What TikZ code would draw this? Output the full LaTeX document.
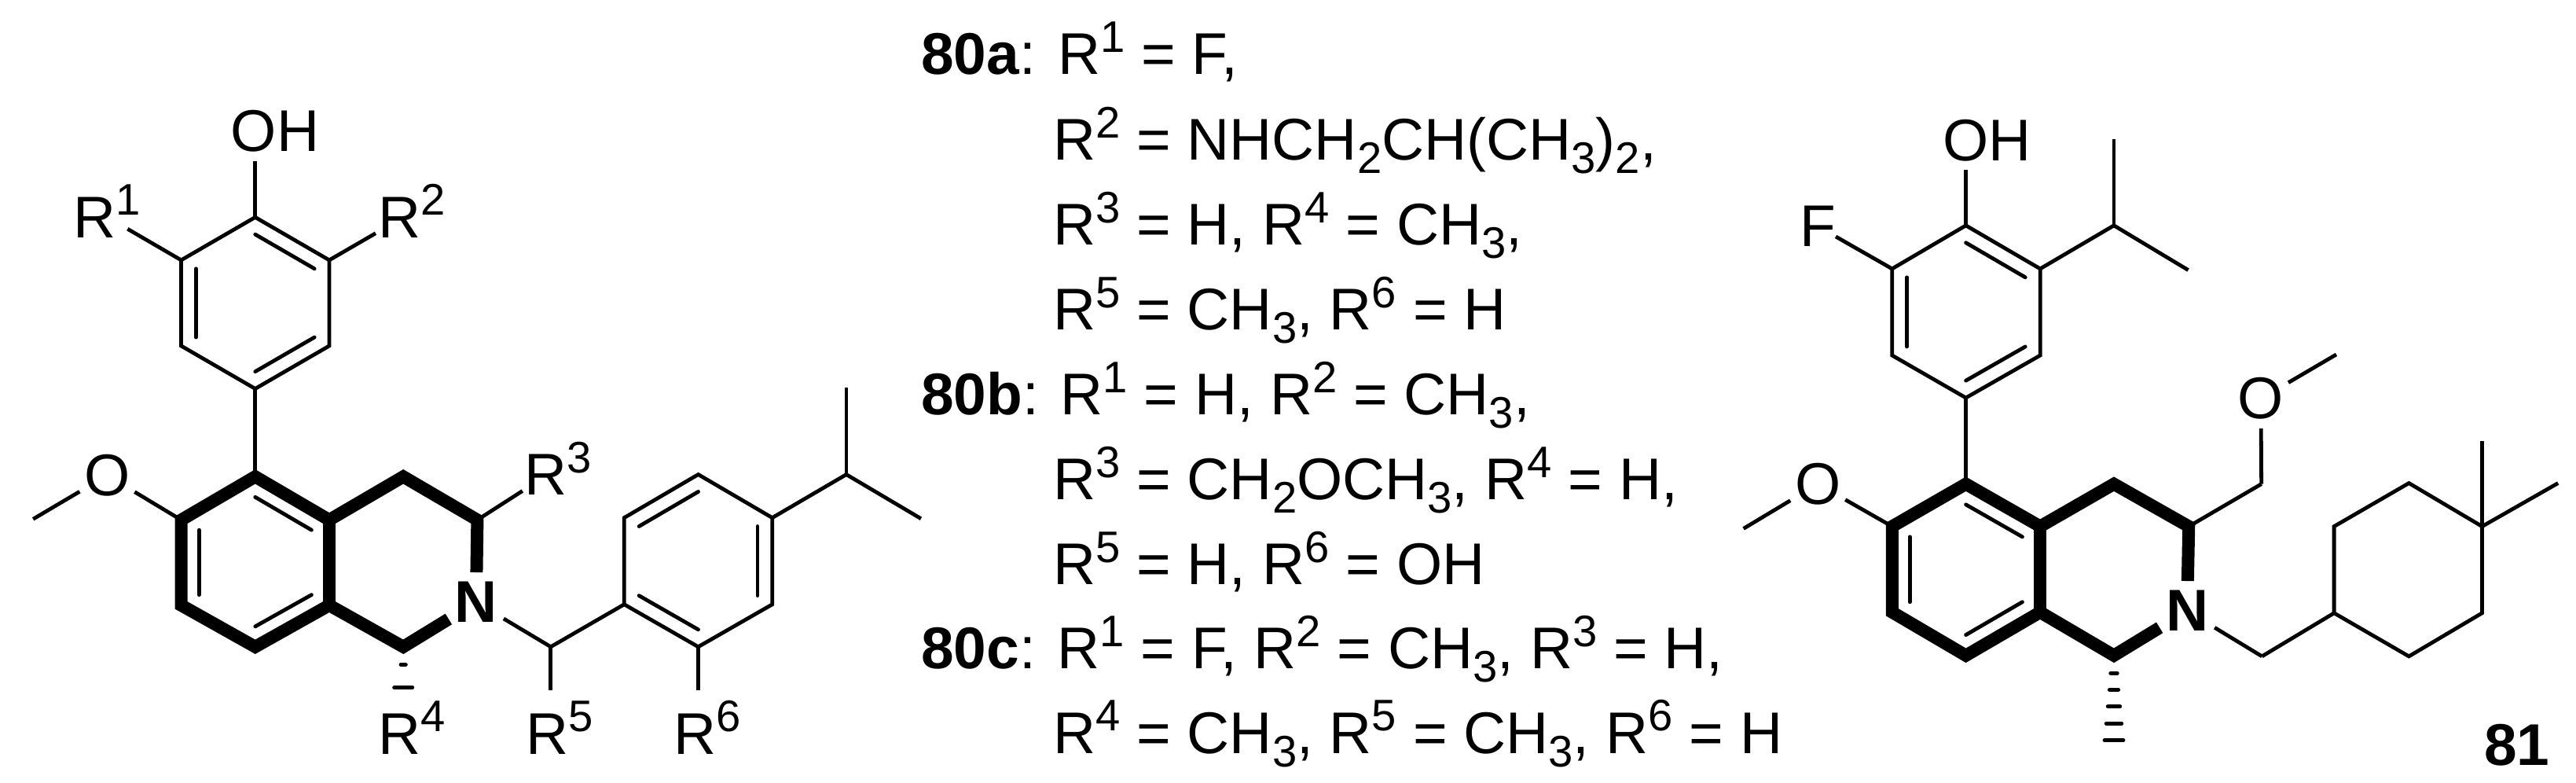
\documentclass[tikz,border=0pt]{standalone}
\usepackage{fontspec}
\setmainfont{Liberation Sans}
\usetikzlibrary{calc}
\newcommand{\rname}[1]{R\raisebox{.285cm}{\fontsize{16}{16}\selectfont #1}}
\newcommand{\subnum}[1]{\raisebox{-.17cm}{\fontsize{16}{16}\selectfont #1}}
\newcommand{\innerbond}[4][.2]{\draw[bond, line cap=round] ($(#3)!#1!(#2)$) -- ($(#4)!#1!(#2)$);}
\tikzset{
    bond/.style={line width=0.048cm, line cap=butt, line join=miter},
    boldbond/.style={line width=0.16cm, line cap=butt, line join=miter},
    hashbond/.style={line width=0.05cm, line cap=round},
    atomlabel/.style={inner sep=0pt, outer sep=0pt, minimum width=0.7cm, minimum height=0.76cm},
    rlabel/.style={inner sep=0pt, outer sep=0pt, anchor=base west},
    textline/.style={inner sep=0pt, outer sep=0pt, anchor=base west}
}
\begin{document}
\begin{tikzpicture}[font=\fontsize{21.3}{24}\selectfont]
    \useasboundingbox (0, 0) rectangle (32.78, -9.95);

    % left structure
    \begin{scope}[x=0.007653cm, y=-0.005516cm, shift={(0, 235.7)}]
        \coordinate (p1) at (424, 266);
        \coordinate (p2) at (547, 365);
        \coordinate (p3) at (547, 563);
        \coordinate (p4) at (424, 662);
        \coordinate (p5) at (301, 563);
        \coordinate (p6) at (301, 365);
        \coordinate (pc) at (424, 464);
        \coordinate (a) at (424, 865);
        \coordinate (b) at (547, 965);
        \coordinate (c) at (547, 1162);
        \coordinate (d) at (424, 1258);
        \coordinate (e) at (301, 1162);
        \coordinate (f) at (301, 965);
        \coordinate (ac) at (424, 1062);
        \coordinate (g) at (670, 865);
        \coordinate (h) at (793, 965);
        \coordinate (i) at (670, 1258);
        \coordinate (q1) at (1160, 860);
        \coordinate (q2) at (1283, 960);
        \coordinate (q3) at (1283, 1160);
        \coordinate (q4) at (1160, 1258);
        \coordinate (q5) at (1037, 1160);
        \coordinate (q6) at (1037, 960);
        \coordinate (qc) at (1160, 1059);
        \coordinate (ch) at (915, 1258);
        \coordinate (ipr) at (1406, 860);
        \coordinate (me1) at (1406, 660);
        \coordinate (me2) at (1530, 962);
        \coordinate (me3) at (55, 963);
        \coordinate (r1end) at (212, 293);
        \coordinate (r2end) at (624, 303);
        \coordinate (r3end) at (868, 898);
        \coordinate (r5end) at (915, 1358);
        \coordinate (r6end) at (1160, 1358);

        \node[atomlabel] (oh) at (457, 67) {OH};
        \node[atomlabel] (ome) at (178, 862) {O};
        \node[atomlabel, font=\fontsize{21.3}{24}\selectfont\bfseries] (n) at (791, 1155) {N};
        \node[rlabel] (r1) at (122, 313) {\rname{1}};
        \node[rlabel] (r2) at (629, 313) {\rname{2}};
        \node[rlabel] (r3) at (872, 908) {\rname{3}};
        \node[rlabel] (r4) at (629, 1506) {\rname{4}};
        \node[rlabel] (r5) at (874, 1506) {\rname{5}};
        \node[rlabel] (r6) at (1119, 1506) {\rname{6}};

        \draw[bond] (p1) -- (p2) -- (p3) -- (p4) -- (p5) -- (p6) -- cycle;
        \innerbond{pc}{p1}{p2}
        \innerbond{pc}{p3}{p4}
        \innerbond{pc}{p5}{p6}
        \draw[bond] (p1) -- (p1 |- oh.south);
        \draw[bond] (p6) -- (r1end);
        \draw[bond] (p2) -- (r2end);
        \draw[bond] (p4) -- (a);

        \draw[boldbond] (n) -- (h) -- (g) -- (b) -- (a) -- (f) -- (e) -- (d) -- (c) -- (i) -- (n);
        \draw[boldbond] (b) -- (c);
        \innerbond[.24]{ac}{a}{b}
        \innerbond[.24]{ac}{c}{d}
        \innerbond[.24]{ac}{e}{f}
        \draw[bond] (f) -- (ome);
        \draw[bond] (ome) -- (me3);
        \draw[bond] (h) -- (r3end);
        \draw[bond] (n) -- (ch);
        \draw[bond] (ch) -- (r5end);
        \draw[bond] (ch) -- (q5);
        \draw[bond] (q1) -- (q2) -- (q3) -- (q4) -- (q5) -- (q6) -- cycle;
        \innerbond{qc}{q1}{q6}
        \innerbond{qc}{q2}{q3}
        \innerbond{qc}{q4}{q5}
        \draw[bond] (q4) -- (r6end);
        \draw[bond] (q2) -- (ipr);
        \draw[bond] (ipr) -- (me1);
        \draw[bond] (ipr) -- (me2);
        \foreach \y/\w in {1299/4, 1352/15}
            \draw[hashbond] (670-\w, \y) -- (670+\w, \y);
    \end{scope}

    % right structure
    \begin{scope}[x=0.007003cm, y=-0.005516cm, shift={(3113, 235.7)}]
        \coordinate (s1) at (459, 285);
        \coordinate (s2) at (594, 385);
        \coordinate (s3) at (594, 585);
        \coordinate (s4) at (459, 683);
        \coordinate (s5) at (325, 585);
        \coordinate (s6) at (325, 385);
        \coordinate (sc) at (459, 484);
        \coordinate (ta) at (459, 882);
        \coordinate (tb) at (594, 980);
        \coordinate (tc) at (594, 1178);
        \coordinate (td) at (459, 1278);
        \coordinate (te) at (325, 1178);
        \coordinate (tf) at (325, 980);
        \coordinate (tcc) at (459, 1080);
        \coordinate (tg) at (728, 882);
        \coordinate (th) at (864, 980);
        \coordinate (ti) at (728, 1278);
        \coordinate (ipr2) at (728, 285);
        \coordinate (ipa) at (728, 85);
        \coordinate (ipb) at (863, 388);
        \coordinate (mo) at (55, 985);
        \coordinate (mo2) at (1132, 583);
        \coordinate (ch2a) at (996, 882);
        \coordinate (ch2b) at (997, 1280);
        \coordinate (u1) at (1128, 1180);
        \coordinate (u2) at (1128, 980);
        \coordinate (u3) at (1264, 880);
        \coordinate (u4) at (1397, 980);
        \coordinate (u5) at (1397, 1180);
        \coordinate (u6) at (1264, 1280);
        \coordinate (gma) at (1397, 782);
        \coordinate (gmb) at (1535, 880);

        \node[atomlabel] (oh2) at (497, 88) {OH};
        \node[atomlabel, minimum width=0.44cm] (fl) at (190, 287) {F};
        \node[atomlabel] (ome2) at (190, 882) {O};
        \node[atomlabel] (oma) at (995, 685) {O};
        \node[atomlabel, font=\fontsize{21.3}{24}\selectfont\bfseries] (n2) at (861, 1175) {N};
        \node[textline, font=\fontsize{21.3}{24}\selectfont\bfseries] (cmpd) at (1401, 1532) {81};

        \draw[bond] (s1) -- (s2) -- (s3) -- (s4) -- (s5) -- (s6) -- cycle;
        \innerbond{sc}{s1}{s2}
        \innerbond{sc}{s3}{s4}
        \innerbond{sc}{s5}{s6}
        \draw[bond] (s1) -- (s1 |- oh2.south);
        \draw[bond] (s6) -- (fl);
        \draw[bond] (s2) -- (ipr2);
        \draw[bond] (ipr2) -- (ipa);
        \draw[bond] (ipr2) -- (ipb);
        \draw[bond] (s4) -- (ta);

        \draw[boldbond] (n2) -- (th) -- (tg) -- (tb) -- (ta) -- (tf) -- (te) -- (td) -- (tc) -- (ti) -- (n2);
        \draw[boldbond] (tb) -- (tc);
        \innerbond[.24]{tcc}{ta}{tb}
        \innerbond[.24]{tcc}{tc}{td}
        \innerbond[.24]{tcc}{te}{tf}
        \draw[bond] (tf) -- (ome2);
        \draw[bond] (ome2) -- (mo);
        \draw[bond] (th) -- (ch2a);
        \draw[bond] (ch2a) -- (oma);
        \draw[bond] (oma) -- (mo2);
        \draw[bond] (n2) -- (ch2b);
        \draw[bond] (ch2b) -- (u1);
        \draw[bond] (u1) -- (u2) -- (u3) -- (u4) -- (u5) -- (u6) -- cycle;
        \draw[bond] (u4) -- (gma);
        \draw[bond] (u4) -- (gmb);
        \foreach \y/\w in {1319/6, 1357/8, 1396/11, 1435/14, 1474/17}
            \draw[hashbond] (728-\w, \y) -- (728+\w, \y);
    \end{scope}

    % substituent list
    \begin{scope}[x=0.01cm, y=-0.01cm]
        \node[textline] (l1) at (1173, 95) {\textbf{80a}: \rname{1} = F,};
        \node[textline] (l2) at (1341, 204) {\rname{2} = NHCH\subnum{2}CH(CH\subnum{3})\subnum{2},};
        \node[textline] (l3) at (1341, 312) {\rname{3} = H, \rname{4} = CH\subnum{3},};
        \node[textline] (l4) at (1341, 420) {\rname{5} = CH\subnum{3}, \rname{6} = H};
        \node[textline] (l5) at (1173, 528) {\textbf{80b}: \rname{1} = H, \rname{2} = CH\subnum{3},};
        \node[textline] (l6) at (1341, 636) {\rname{3} = CH\subnum{2}OCH\subnum{3}, \rname{4} = H,};
        \node[textline] (l7) at (1341, 744) {\rname{5} = H, \rname{6} = OH};
        \node[textline] (l8) at (1173, 851) {\textbf{80c}: \rname{1} = F, \rname{2} = CH\subnum{3}, \rname{3} = H,};
        \node[textline] (l9) at (1341, 959) {\rname{4} = CH\subnum{3}, \rname{5} = CH\subnum{3}, \rname{6} = H};
    \end{scope}
\end{tikzpicture}
\end{document}
